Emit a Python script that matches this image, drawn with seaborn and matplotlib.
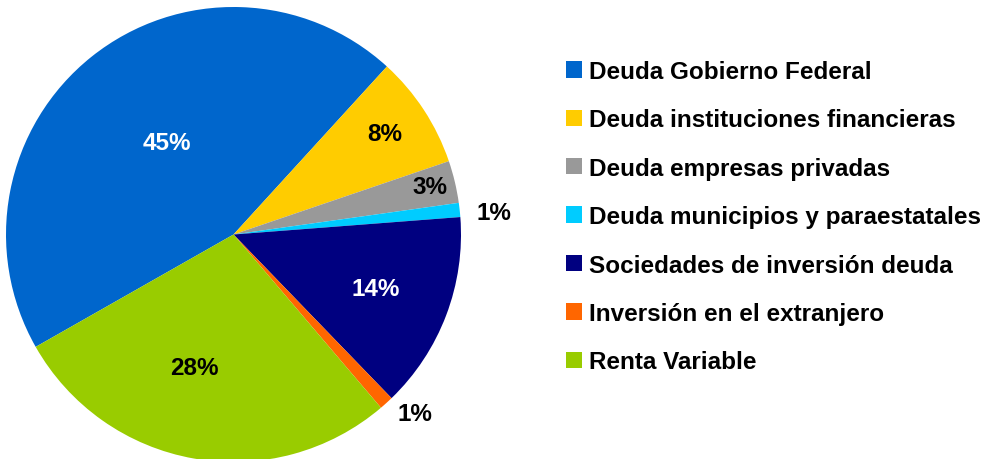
import numpy as np
import matplotlib
matplotlib.use("Agg")
import matplotlib.pyplot as plt
import seaborn as sns

sns.set_theme(style="white")
plt.rcParams["font.family"] = ["Liberation Sans", "DejaVu Sans"]
plt.rcParams["text.color"] = "black"

categories = [
    "Deuda Gobierno Federal",
    "Deuda instituciones financieras",
    "Deuda empresas privadas",
    "Deuda municipios y paraestatales",
    "Sociedades de inversión deuda",
    "Inversión en el extranjero",
    "Renta Variable"
]

shares = [45, 8, 3, 1, 14, 1, 28]

colors = [
    "#0066CC",
    "#FFCC00",
    "#999999",
    "#00CCFF",
    "#000080",
    "#FF6600",
    "#99CC00"
]

# label placement: fraction of radius, angle nudge (deg), text colour
label_dist = [0.50, 0.80, 0.89, 1.15, 0.67, 1.12, 0.61]
label_nudge = [-2.5, 0.5, 0.2, -1.4, 0.0, 3.3, -6.4]
label_color = ["white", "black", "black", "black", "white", "black", "black"]

fig = plt.figure(figsize=(9.98, 4.6), dpi=100)

ax = fig.add_axes([6 / 998, -3 / 460, 455 / 998, 455 / 460])

start = 209.6

wedges, _ = ax.pie(
    shares,
    colors=colors,
    startangle=start,
    counterclock=False,
    radius=1,
    wedgeprops={"linewidth": 0}
)

ax.set_xlim(-1, 1)
ax.set_ylim(-1, 1)
ax.set_aspect("equal")
ax.axis("off")

total = sum(shares)
angle = start
for i, v in enumerate(shares):
    span = 360 * v / total
    mid = np.deg2rad(angle - span / 2 + label_nudge[i])
    angle -= span
    r = label_dist[i]
    ax.text(
        r * np.cos(mid),
        r * np.sin(mid),
        f"{v}%",
        ha="center",
        va="center",
        fontsize=17.5,
        fontweight="bold",
        color=label_color[i],
        clip_on=False
    )

fig.legend(
    wedges,
    categories,
    loc="upper left",
    bbox_to_anchor=(566 / 998, 1 - 61 / 460),
    frameon=False,
    prop={"size": 17.5, "weight": "bold"},
    labelcolor="black",
    handlelength=0.66,
    handleheight=0.66,
    handletextpad=0.3,
    labelspacing=1.045,
    borderaxespad=0,
    borderpad=0
)

plt.savefig("out.png", dpi=100)
